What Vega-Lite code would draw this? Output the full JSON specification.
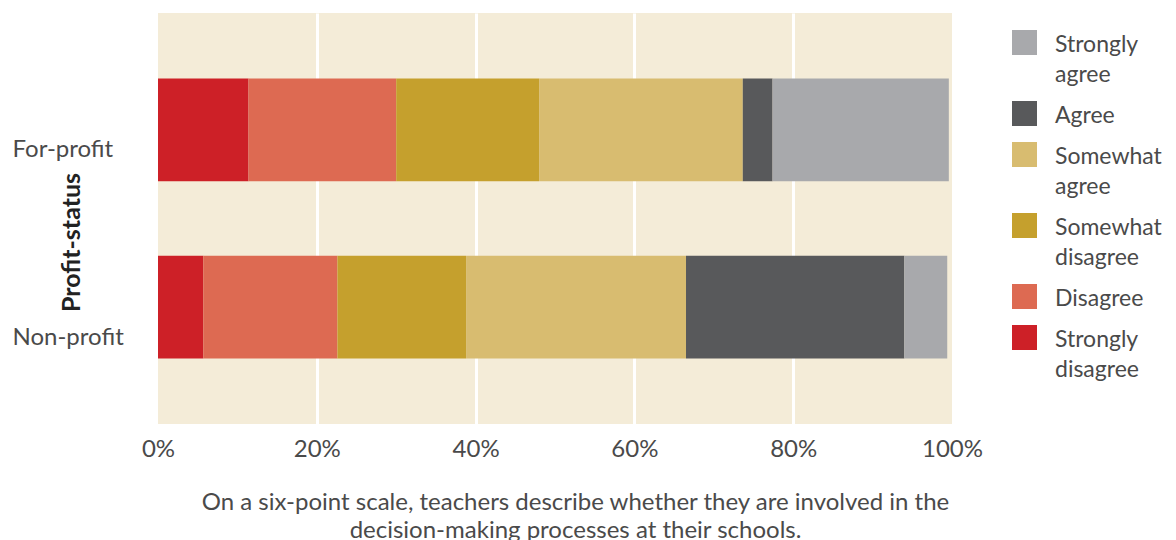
{
  "$schema": "https://vega.github.io/schema/vega-lite/v6.json",
  "width": 794,
  "height": 411,
  "autosize": "none",
  "padding": {"left": 158, "top": 13, "right": 224, "bottom": 116},
  "background": "white",
  "config": {
    "font": "Lato",
    "view": {"fill": "#F4ECD8", "stroke": null}
  },
  "data": {
    "values": [
      {"status": "For-profit", "response": "Strongly disagree", "rank": 1, "pct": 11.4},
      {"status": "For-profit", "response": "Disagree", "rank": 2, "pct": 18.6},
      {"status": "For-profit", "response": "Somewhat disagree", "rank": 3, "pct": 18.0},
      {"status": "For-profit", "response": "Somewhat agree", "rank": 4, "pct": 25.65},
      {"status": "For-profit", "response": "Agree", "rank": 5, "pct": 3.75},
      {"status": "For-profit", "response": "Strongly agree", "rank": 6, "pct": 22.2},
      {"status": "Non-profit", "response": "Strongly disagree", "rank": 1, "pct": 5.7},
      {"status": "Non-profit", "response": "Disagree", "rank": 2, "pct": 16.9},
      {"status": "Non-profit", "response": "Somewhat disagree", "rank": 3, "pct": 16.2},
      {"status": "Non-profit", "response": "Somewhat agree", "rank": 4, "pct": 27.7},
      {"status": "Non-profit", "response": "Agree", "rank": 5, "pct": 27.5},
      {"status": "Non-profit", "response": "Strongly agree", "rank": 6, "pct": 5.4}
    ]
  },
  "mark": {"type": "bar"},
  "encoding": {
    "y": {
      "field": "status",
      "type": "nominal",
      "scale": {"paddingInner": 0.42, "paddingOuter": 0.37},
      "axis": {
        "title": "Profit-status",
        "titleFont": "Lato",
        "titleFontSize": 25,
        "titleFontWeight": "bold",
        "titleColor": "#222222",
        "titleAngle": -90,
        "titleAlign": "center",
        "titleBaseline": "alphabetic",
        "titleX": -79,
        "titleY": 229,
        "labelAlign": "left",
        "labelBaseline": "alphabetic",
        "labelPadding": 146,
        "labelOffset": {"condition": {"test": "datum.value == 'For-profit'", "value": 27}, "value": 38},
        "labelFontSize": 24,
        "labelColor": "#4a4a4a",
        "ticks": false,
        "domain": false,
        "grid": false
      }
    },
    "x": {
      "field": "pct",
      "type": "quantitative",
      "stack": "zero",
      "scale": {"domain": [0, 100], "nice": false},
      "axis": {
        "values": [0, 20, 40, 60, 80, 100],
        "labelExpr": "datum.value + '%'",
        "labelFlush": false,
        "labelFontSize": 24,
        "labelColor": "#4a4a4a",
        "labelPadding": 13,
        "ticks": false,
        "domain": false,
        "grid": true,
        "gridColor": "white",
        "gridWidth": 3,
        "gridOpacity": {"condition": {"test": "datum.value == 0 || datum.value == 100", "value": 0}, "value": 1},
        "title": ["On a six-point scale, teachers describe whether they are involved in the", "decision-making processes at their schools."],
        "titleFontSize": 24,
        "titleFontWeight": "normal",
        "titleColor": "#4a4a4a",
        "titleLineHeight": 28,
        "titleAlign": "center",
        "titleBaseline": "alphabetic",
        "titleX": 417,
        "titleY": 85
      }
    },
    "color": {
      "field": "response",
      "type": "nominal",
      "scale": {
        "domain": ["Strongly agree", "Agree", "Somewhat agree", "Somewhat disagree", "Disagree", "Strongly disagree"],
        "range": ["#A8A9AC", "#58595B", "#D8BC70", "#C5A02D", "#DD6A52", "#CD2027"]
      },
      "legend": {
        "title": null,
        "orient": "none",
        "legendX": 854,
        "legendY": 17,
        "padding": 0,
        "symbolType": "square",
        "symbolSize": 625,
        "symbolStrokeWidth": 0,
        "symbolOpacity": 1,
        "labelFontSize": 23,
        "labelColor": "#4a4a4a",
        "labelOffset": 18,
        "labelBaseline": "top",
        "labelExpr": "split(datum.label, ' ')",
        "labelLimit": 300,
        "rowPadding": 14,
        "encode": {"labels": {"update": {"dy": {"value": -9}, "lineHeight": {"value": 30}}}}
      }
    },
    "order": {"field": "rank", "type": "quantitative"}
  }
}
